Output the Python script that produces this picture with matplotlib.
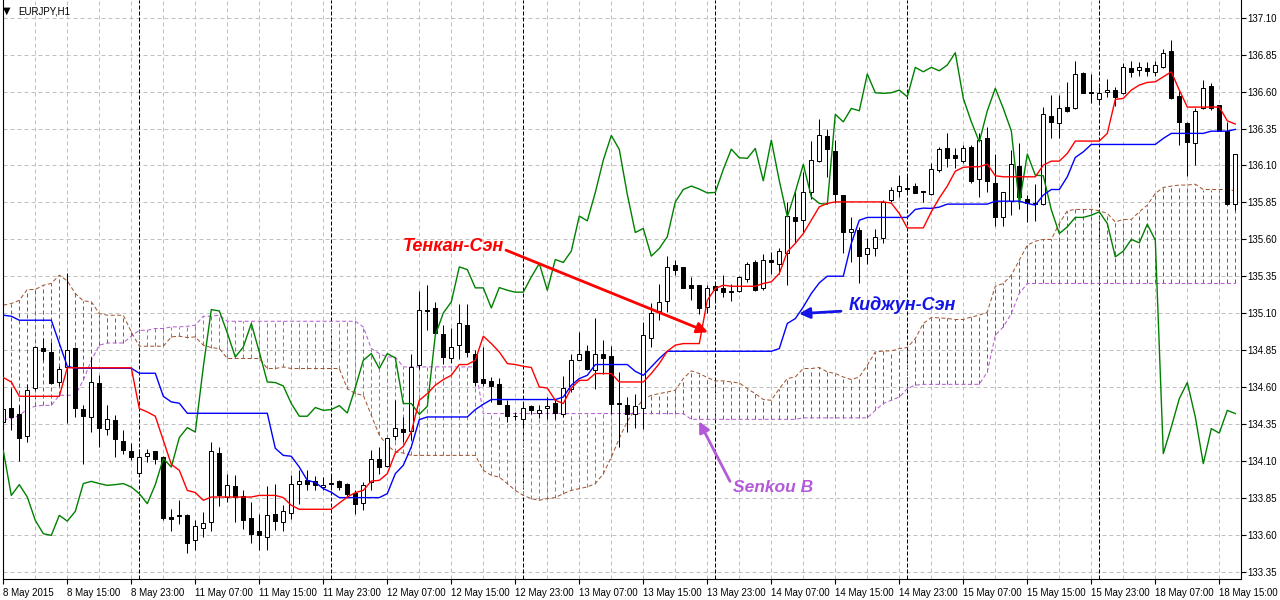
import matplotlib
matplotlib.use("Agg")
import matplotlib.pyplot as plt
import numpy as np

# ---------------- data (EURJPY H1, bar index 0 = 8 May 2015 07:00) ----------------
opens = [134.36,134.46,134.42,134.27,134.59,134.862,134.84,134.637,134.735,134.862,
         134.449,134.40,134.63,134.318,134.379,134.237,134.169,134.02,134.135,134.169,
         134.126,133.717,133.73,133.736,133.562,133.648,133.686,134.156,133.855,133.927,
         133.86,133.713,133.622,133.584,133.738,133.686,133.749,133.941,133.968,133.961,
         133.923,133.95,133.963,133.941,133.885,133.817,133.956,134.11,134.065,134.268,
         134.318,134.302,134.747,135.124,135.138,134.957,134.799,134.887,135.018,134.826,
         134.652,134.639,134.618,134.476,134.406,134.386,134.469,134.427,134.46,134.492,
         134.42,134.589,134.785,134.844,134.718,134.82,134.808,134.494,134.476,134.42,
         134.46,134.935,135.115,135.183,135.429,135.409,135.289,135.289,135.142,135.287,
         135.271,135.248,135.248,135.334,135.447,135.267,135.459,135.436,135.504,135.748,
         135.731,135.921,136.129,136.299,136.197,135.899,135.65,135.666,135.499,135.544,
         135.606,135.865,135.926,135.944,135.96,135.924,135.904,136.068,136.215,136.17,
         136.131,136.226,136.005,136.283,135.982,135.752,135.86,136.095,135.876,135.843,
         135.838,136.434,136.385,136.493,136.486,136.727,136.597,136.547,136.595,136.61,
         136.588,136.757,136.746,136.757,136.734,136.764,136.875,136.57,136.385,136.253,
         136.486,136.637,136.509,136.334,135.84]
highs = [134.51,134.59,134.48,134.62,134.88,134.935,134.905,134.74,135.37,134.87,
         134.48,134.80,134.679,134.476,134.408,134.307,134.22,134.183,134.183,134.17,
         134.13,133.776,133.833,133.74,133.697,133.753,134.228,134.194,134.013,134.002,
         133.905,133.821,133.742,133.927,133.941,133.799,134.002,134.04,134.036,133.995,
         133.99,134.013,133.968,133.95,133.90,133.957,134.171,134.194,134.257,134.51,
         134.397,134.82,135.25,135.29,135.176,135.018,134.996,135.159,135.159,134.849,
         134.871,134.668,134.661,134.51,134.43,134.499,134.476,134.476,134.532,134.51,
         134.673,134.826,134.973,134.883,135.064,134.917,134.876,134.702,134.532,134.555,
         135.04,135.167,135.296,135.486,135.463,135.41,135.345,135.29,135.29,135.30,
         135.357,135.30,135.35,135.447,135.459,135.499,135.515,135.538,135.854,135.937,
         136.057,136.265,136.412,136.344,136.272,135.90,135.752,135.684,135.606,135.673,
         135.865,135.955,136.034,136.027,135.982,135.924,136.114,136.226,136.317,136.215,
         136.238,136.238,136.317,136.358,136.177,135.921,136.204,136.253,135.899,135.973,
         136.497,136.576,136.576,136.666,136.807,136.734,136.717,136.633,136.683,136.633,
         136.795,136.809,136.80,136.80,136.807,136.886,136.949,136.61,136.395,136.486,
         136.678,136.66,136.51,136.395,136.18]
lows = [134.31,134.31,134.10,134.23,134.58,134.78,134.62,134.61,134.357,134.397,
        134.081,134.295,134.194,134.273,134.126,134.149,134.108,134.02,134.092,134.081,
        133.70,133.624,133.675,133.475,133.494,133.584,133.625,133.792,133.821,133.686,
        133.641,133.543,133.499,133.499,133.629,133.625,133.708,133.81,133.90,133.90,
        133.90,133.90,133.90,133.855,133.742,133.765,133.90,134.013,134.058,134.239,
        134.227,134.239,134.72,134.984,134.95,134.759,134.763,134.792,134.803,134.605,
        134.605,134.498,134.483,134.363,134.375,134.329,134.42,134.388,134.386,134.386,
        134.397,134.566,134.781,134.713,134.589,134.691,134.42,134.194,134.295,134.32,
        134.318,134.871,135.052,135.108,135.357,135.27,135.188,135.097,135.10,135.188,
        135.21,135.181,135.24,135.312,135.25,135.26,135.368,135.368,135.289,135.572,
        135.64,135.876,136.124,136.023,135.843,135.504,135.447,135.307,135.436,135.486,
        135.572,135.853,135.887,135.921,135.91,135.853,135.90,136.057,136.091,136.08,
        136.114,135.978,135.883,135.921,135.689,135.689,135.763,135.804,135.718,135.725,
        135.83,136.283,136.283,136.463,136.48,136.588,136.524,136.524,136.565,136.502,
        136.585,136.70,136.705,136.705,136.705,136.76,136.55,136.238,136.028,136.102,
        136.48,136.475,136.33,135.835,135.797]
closes = [134.45,134.40,134.255,134.58,134.87,134.844,134.627,134.72,134.849,134.458,
          134.404,134.637,134.322,134.386,134.25,134.176,134.126,134.126,134.156,134.11,
          133.713,133.708,133.725,133.543,133.658,133.681,134.169,133.866,133.939,133.855,
          133.697,133.607,133.595,133.731,133.692,133.758,133.946,133.961,133.946,133.934,
          133.939,133.946,133.923,133.878,133.81,133.939,134.115,134.058,134.257,134.325,
          134.295,134.736,135.124,135.115,134.966,134.803,134.871,135.03,134.837,134.634,
          134.63,134.607,134.488,134.402,134.402,134.461,134.442,134.447,134.474,134.424,
          134.596,134.781,134.826,134.725,134.826,134.797,134.488,134.488,134.415,134.469,
          134.95,135.101,135.176,135.413,135.395,135.271,135.271,135.135,135.273,135.255,
          135.242,135.242,135.345,135.436,135.255,135.463,135.443,135.52,135.757,135.725,
          135.917,136.136,136.303,136.208,135.904,135.646,135.673,135.486,135.538,135.617,
          135.853,135.937,135.96,135.94,135.914,135.917,136.073,136.21,136.152,136.148,
          136.215,135.996,136.271,135.996,135.752,135.921,136.107,135.887,135.843,135.836,
          136.446,136.395,136.486,136.47,136.719,136.592,136.588,136.592,136.61,136.565,
          136.764,136.734,136.764,136.741,136.78,136.863,136.554,136.396,136.26,136.47,
          136.622,136.486,136.334,135.838,136.177]

tenkan = [134.664,134.634,134.537,134.537,134.537,134.537,134.537,134.537,134.73,134.73,
          134.73,134.73,134.73,134.73,134.73,134.73,134.73,134.454,134.431,134.402,
          134.239,134.076,134.036,133.90,133.885,133.833,133.855,133.855,133.855,133.855,
          133.855,133.855,133.866,133.866,133.866,133.851,133.799,133.772,133.772,133.772,
          133.772,133.772,133.814,133.855,133.885,133.90,133.963,133.968,134.013,134.153,
          134.198,134.295,134.51,134.555,134.612,134.65,134.679,134.752,134.752,134.781,
          134.944,134.894,134.837,134.759,134.752,134.74,134.732,134.60,134.593,134.51,
          134.488,134.593,134.645,134.645,134.691,134.691,134.691,134.634,134.634,134.634,
          134.634,134.691,134.759,134.842,134.883,134.894,134.894,134.894,135.187,135.267,
          135.289,135.282,135.282,135.282,135.282,135.301,135.312,135.368,135.515,135.572,
          135.639,135.729,135.82,135.843,135.853,135.853,135.853,135.853,135.853,135.853,
          135.853,135.845,135.775,135.677,135.677,135.677,135.786,135.879,135.96,136.061,
          136.087,136.091,136.091,136.109,136.03,136.023,136.023,136.023,136.023,136.023,
          136.102,136.129,136.129,136.181,136.265,136.265,136.265,136.265,136.317,136.547,
          136.554,136.61,136.644,136.662,136.666,136.70,136.734,136.61,136.495,136.495,
          136.495,136.495,136.495,136.402,136.38]

kijun = [135.086,135.079,135.052,135.052,135.052,135.052,135.052,134.896,134.74,134.727,
         134.727,134.727,134.727,134.727,134.727,134.727,134.727,134.693,134.693,134.693,
         134.537,134.499,134.49,134.422,134.422,134.422,134.422,134.422,134.422,134.422,
         134.422,134.422,134.422,134.422,134.185,134.137,134.131,134.058,133.968,133.954,
         133.912,133.887,133.851,133.851,133.851,133.851,133.851,133.851,133.878,134.013,
         134.07,134.194,134.379,134.397,134.397,134.397,134.397,134.397,134.397,134.447,
         134.483,134.515,134.515,134.515,134.515,134.515,134.515,134.515,134.515,134.515,
         134.532,134.612,134.657,134.679,134.752,134.752,134.752,134.752,134.752,134.706,
         134.679,134.736,134.793,134.842,134.842,134.842,134.842,134.842,134.842,134.842,
         134.842,134.842,134.842,134.842,134.842,134.842,134.842,134.86,135.03,135.063,
         135.142,135.233,135.305,135.35,135.35,135.35,135.572,135.729,135.748,135.748,
         135.748,135.748,135.748,135.748,135.802,135.811,135.809,135.818,135.838,135.838,
         135.838,135.838,135.838,135.838,135.858,135.858,135.858,135.858,135.843,135.831,
         135.899,135.937,135.937,136.023,136.154,136.192,136.242,136.242,136.242,136.242,
         136.242,136.242,136.242,136.242,136.242,136.283,136.317,136.317,136.317,136.317,
         136.317,136.332,136.332,136.332,136.344]

span_a = [135.154,135.165,135.187,135.26,135.26,135.289,135.301,135.357,135.318,135.233,
          135.183,135.177,135.097,135.086,135.086,135.086,134.973,134.876,134.876,134.876,
          134.876,134.939,134.944,134.935,134.939,134.883,134.867,134.86,134.793,134.793,
          134.793,134.793,134.793,134.725,134.725,134.736,134.725,134.725,134.725,134.725,
          134.725,134.725,134.725,134.589,134.555,134.544,134.408,134.273,134.205,134.16,
          134.153,134.137,134.137,134.137,134.137,134.137,134.137,134.137,134.137,134.137,
          134.036,134.002,133.99,133.946,133.90,133.866,133.844,133.833,133.844,133.851,
          133.878,133.90,133.912,133.923,133.946,134.013,134.124,134.253,134.368,134.449,
          134.517,134.544,134.555,134.566,134.578,134.657,134.709,134.691,134.664,134.641,
          134.641,134.634,134.627,134.589,134.555,134.515,134.51,134.589,134.657,134.668,
          134.725,134.725,134.732,134.702,134.691,134.668,134.65,134.668,134.747,134.837,
          134.844,134.844,134.86,134.867,134.928,135.03,135.07,135.068,135.064,135.057,
          135.057,135.074,135.086,135.108,135.282,135.301,135.357,135.459,135.56,135.587,
          135.599,135.599,135.707,135.793,135.802,135.802,135.802,135.793,135.775,135.718,
          135.734,135.734,135.786,135.831,135.91,135.951,135.96,135.967,135.967,135.973,
          135.937,135.937,135.937,135.937,135.928]

span_b = [134.379,134.386,134.408,134.45,134.47,134.476,134.476,134.544,134.544,134.544,
          134.646,134.78,134.883,134.898,134.898,134.898,134.944,134.984,134.984,134.996,
          134.996,135.007,135.007,135.011,135.018,135.079,135.079,135.086,135.045,135.045,
          135.045,135.045,135.045,135.045,135.045,135.045,135.045,135.045,135.045,135.045,
          135.045,135.045,135.045,135.045,135.045,135.007,134.86,134.826,134.803,134.803,
          134.736,134.736,134.736,134.736,134.736,134.736,134.736,134.736,134.736,134.736,
          134.42,134.42,134.42,134.42,134.42,134.42,134.42,134.42,134.42,134.42,
          134.42,134.42,134.42,134.42,134.42,134.42,134.42,134.42,134.42,134.42,
          134.42,134.42,134.42,134.42,134.42,134.42,134.381,134.381,134.381,134.381,
          134.381,134.381,134.381,134.381,134.381,134.381,134.381,134.381,134.381,134.381,
          134.391,134.391,134.391,134.391,134.391,134.391,134.391,134.391,134.391,134.442,
          134.488,134.51,134.532,134.589,134.612,134.618,134.618,134.618,134.618,134.618,
          134.618,134.618,134.618,134.702,134.95,135.007,135.097,135.233,135.301,135.301,
          135.301,135.301,135.301,135.301,135.301,135.301,135.301,135.301,135.301,135.301,
          135.301,135.301,135.301,135.301,135.301,135.301,135.301,135.301,135.301,135.301,
          135.301,135.301,135.301,135.301,135.301]

chikou = [134.169,133.866,133.939,133.855,133.697,133.607,133.595,133.731,133.692,133.758,
          133.946,133.961,133.946,133.934,133.939,133.946,133.923,133.878,133.81,133.939,
          134.115,134.058,134.257,134.325,134.295,134.736,135.124,135.115,134.966,134.803,
          134.871,135.03,134.837,134.634,134.63,134.607,134.488,134.402,134.402,134.461,
          134.442,134.447,134.474,134.424,134.596,134.781,134.826,134.725,134.826,134.797,
          134.488,134.488,134.415,134.469,134.95,135.101,135.176,135.413,135.395,135.271,
          135.271,135.135,135.273,135.255,135.242,135.242,135.345,135.436,135.255,135.463,
          135.443,135.52,135.757,135.725,135.917,136.136,136.303,136.208,135.904,135.646,
          135.673,135.486,135.538,135.617,135.853,135.937,135.96,135.94,135.914,135.917,
          136.073,136.21,136.152,136.148,136.215,135.996,136.271,135.996,135.752,135.921,
          136.107,135.887,135.843,135.836,136.446,136.395,136.486,136.47,136.719,136.592,
          136.588,136.592,136.61,136.565,136.764,136.734,136.764,136.741,136.78,136.863,
          136.554,136.396,136.26,136.47,136.622,136.486,136.334,135.838,136.177,136.034,
          136.03,135.80,135.639,135.684,135.748,135.748,135.763,135.786,135.707,135.481,
          135.52,135.599,135.576,135.702,135.594,134.149,134.329,134.521,134.63,134.397,
          134.081,134.318,134.288,134.442,134.42]

price_ticks = [133.35,133.60,133.85,134.10,134.35,134.60,134.85,135.10,135.35,
               135.60,135.85,136.10,136.35,136.60,136.85,137.10]
time_tick_bars = [0,8,16,24,32,40,48,56,64,72,80,88,96,104,112,120,128,136,144,152]
time_labels = ['8 May 2015','8 May 15:00','8 May 23:00','11 May 07:00','11 May 15:00',
               '11 May 23:00','12 May 07:00','12 May 15:00','12 May 23:00','13 May 07:00',
               '13 May 15:00','13 May 23:00','14 May 07:00','14 May 15:00','14 May 23:00',
               '15 May 07:00','15 May 15:00','15 May 23:00','18 May 07:00','18 May 15:00']
day_start_bars = [17,41,65,89,113,137]

# ---------------- style ----------------
RED = '#ff0000'
BLUE = '#0000ff'
GREEN = '#008000'
SIENNA = '#a0522d'
ORCHID = '#b45ad2'
GRID = '#c0c0c0'
LW = 0.72

plt.rcParams['font.family'] = ['Liberation Sans', 'DejaVu Sans']

W, H = 1280, 600
fig = plt.figure(figsize=(W / 100, H / 100), dpi=100)
fig.patch.set_facecolor('white')
left_px, right_px, top_px, bottom_px = 2.7, 1240.5, 0.0, 579.3
ax = fig.add_axes([left_px / W, (H - bottom_px) / H, (right_px - left_px) / W, (bottom_px - top_px) / H])
ax.set_facecolor('white')

n = len(closes)
x = np.arange(n)
ax.set_xlim(-0.075, 154.65)
ax.set_ylim(133.298, 137.22)

# grid
for p in price_ticks:
    ax.axhline(p, color=GRID, lw=LW, ls=(0, (4, 3)), zorder=0.5)
for b in range(4, n + 1, 4):
    ax.axvline(b, color=GRID, lw=LW, ls=(0, (4, 3)), zorder=0.5)
for b in day_start_bars:
    ax.axvline(b, color='black', lw=LW, ls=(0, (4, 2)), zorder=0.6)

# cloud hatch
sa = np.array(span_a)
sb = np.array(span_b)
hcol = [SIENNA if a >= b else ORCHID for a, b in zip(sa, sb)]
ax.vlines(x, np.minimum(sa, sb), np.maximum(sa, sb), colors=hcol, lw=LW,
          linestyles=(0, (4, 3)), zorder=1)
ax.plot(x, sa, color=SIENNA, lw=LW, ls=(0, (4, 2.5)), zorder=1.5)
ax.plot(x, sb, color=ORCHID, lw=LW, ls=(0, (4, 2.5)), zorder=1.5)

# candles
o = np.array(opens); c = np.array(closes)
ax.vlines(x, lows, highs, color='black', lw=LW, zorder=2)
bull = c >= o
body_bottom = np.minimum(o, c)
body_h = np.maximum(np.abs(c - o), 0.002)
ax.bar(x[bull], body_h[bull], bottom=body_bottom[bull], width=0.5, color='white',
       edgecolor='black', linewidth=LW, zorder=2.1)
ax.bar(x[~bull], body_h[~bull], bottom=body_bottom[~bull], width=0.5, color='black',
       edgecolor='black', linewidth=LW, zorder=2.1)

# ichimoku lines
ax.plot(x, chikou, color=GREEN, lw=1.0, zorder=3)
ax.plot(x, kijun, color=BLUE, lw=1.0, zorder=3.1)
ax.plot(x, tenkan, color=RED, lw=1.0, zorder=3.2)

# axes, ticks
ax.spines['top'].set_visible(False)
for s in ['left', 'right', 'bottom']:
    ax.spines[s].set_linewidth(0.8)
    ax.spines[s].set_color('black')
ax.yaxis.tick_right()
ax.set_yticks(price_ticks)
ax.set_yticklabels([f'{p:.2f}' for p in price_ticks])
ax.tick_params(axis='y', direction='out', length=3.5, width=0.8, pad=1.5,
               labelsize=7, labelcolor='black')
ax.set_xticks(time_tick_bars)
ax.set_xticklabels(time_labels, ha='left')
ax.tick_params(axis='x', direction='out', length=3.5, width=0.8, pad=2.5,
               labelsize=7, labelcolor='black')

# title
fig.text(3 / W, 1 - 11 / H, '\u25BC', fontsize=7, family='DejaVu Sans', va='center', color='black')
fig.text(18 / W, 1 - 11 / H, 'EURJPY,H1', fontsize=7, va='center', color='black')

# annotations
def px2data(px, py):
    return ((px - 3.3) / 8.0, 137.22 - py / 147.6)

ax.annotate('', xy=px2data(708, 332), xytext=px2data(506, 250),
            arrowprops=dict(arrowstyle='-|>', color=RED, lw=2.0, mutation_scale=16,
                            shrinkA=0, shrinkB=0), zorder=5)
ax.text(*px2data(403, 246), 'Тенкан-Сэн', color=RED, fontsize=13, fontweight='bold',
        fontstyle='italic', ha='left', va='center', zorder=5)

ax.annotate('', xy=px2data(799, 313.5), xytext=px2data(841, 311),
            arrowprops=dict(arrowstyle='-|>', color='#1414e6', lw=2.0, mutation_scale=16,
                            shrinkA=0, shrinkB=0), zorder=5)
ax.text(*px2data(849, 305), 'Киджун-Сэн', color='#1414e6', fontsize=13, fontweight='bold',
        fontstyle='italic', ha='left', va='center', zorder=5)

ax.annotate('', xy=px2data(699, 421), xytext=px2data(730, 481),
            arrowprops=dict(arrowstyle='-|>', color='#b45ad8', lw=2.0, mutation_scale=16,
                            shrinkA=0, shrinkB=0), zorder=5)
ax.text(*px2data(733, 487), 'Senkou B', color='#b45ad8', fontsize=12.5, fontweight='bold',
        fontstyle='italic', ha='left', va='center', zorder=5)

fig.savefig('out.png', dpi=100, facecolor='white')
